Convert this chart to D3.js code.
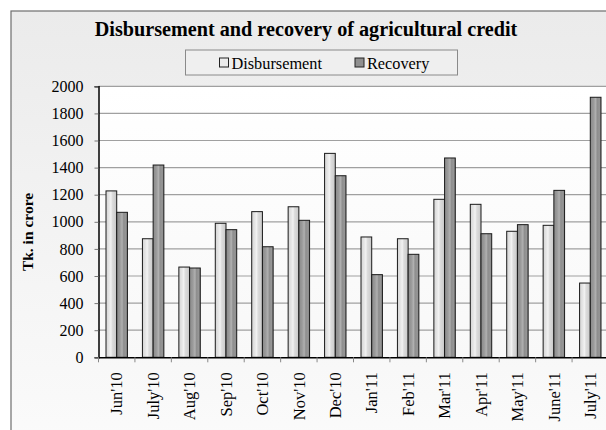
<!DOCTYPE html>
<html>
<head>
<meta charset="utf-8">
<style>
  body { margin: 0; background: #fff; }
  svg { display: block; font-family: "Liberation Serif", "Times New Roman", serif; }
</style>
</head>
<body>
<div id="chart"></div>
<script src="https://d3js.org/d3.v7.min.js"></script>
<script>
// Data (Tk. in crore)
const months = ["Jun'10", "July'10", "Aug'10", "Sep'10", "Oct'10", "Nov'10", "Dec'10",
                "Jan'11", "Feb'11", "Mar'11", "Apr'11", "May'11", "June'11", "July'11"];
const disbursement = [1228, 875, 666, 989, 1075, 1111, 1505, 888, 875, 1166, 1129, 930, 974, 548];
const recovery     = [1070, 1419, 659, 942, 816, 1011, 1340, 610, 760, 1471, 912, 979, 1232, 1919];
const seriesNames = ["Disbursement", "Recovery"];
const yTicks = [0, 200, 400, 600, 800, 1000, 1200, 1400, 1600, 1800, 2000];

const width = 606, height = 430;
const plot = { left: 98.5, right: 608.5, top: 86.3, bottom: 357.3 };

const svg = d3.select("#chart").append("svg")
    .attr("width", width)
    .attr("height", height);

const defs = svg.append("defs");

// chart background gradient
const bg = defs.append("linearGradient").attr("id", "bg")
    .attr("x1", 0).attr("y1", 0).attr("x2", 0).attr("y2", 1);
bg.append("stop").attr("offset", "0%").attr("stop-color", "#ebebeb");
bg.append("stop").attr("offset", "100%").attr("stop-color", "#fbfbfb");

const plotBg = defs.append("linearGradient").attr("id", "plotbg")
    .attr("x1", 0).attr("y1", 0).attr("x2", 0).attr("y2", 1);
plotBg.append("stop").attr("offset", "0%").attr("stop-color", "#ffffff");
plotBg.append("stop").attr("offset", "100%").attr("stop-color", "#f8f8f8");

// striped shading for the bars
function barGradient(id, stops) {
  const g = defs.append("linearGradient").attr("id", id)
      .attr("x1", 0).attr("y1", 0).attr("x2", 1).attr("y2", 0);
  stops.forEach(s => g.append("stop").attr("offset", s[0]).attr("stop-color", s[1]));
}
barGradient("gDisb", [["0%", "#d4d4d4"], ["30%", "#e6e6e6"], ["45%", "#f2f2f2"], ["60%", "#dcdcdc"], ["85%", "#d0d0d0"], ["100%", "#c4c4c4"]]);
barGradient("gRec", [["0%", "#8a8a8a"], ["30%", "#9a9a9a"], ["50%", "#b0b0b0"], ["65%", "#8e8e8e"], ["85%", "#969696"], ["100%", "#7e7e7e"]]);
const fills = { Disbursement: "url(#gDisb)", Recovery: "url(#gRec)" };

// outer frame
svg.append("rect")
    .attr("x", 11).attr("y", 11)
    .attr("width", 620).attr("height", 440)
    .attr("fill", "url(#bg)")
    .attr("stroke", "#6e6e6e")
    .attr("stroke-width", 1.2);

// plot area
svg.append("rect")
    .attr("x", plot.left).attr("y", plot.top)
    .attr("width", plot.right - plot.left).attr("height", plot.bottom - plot.top)
    .attr("fill", "url(#plotbg)");

// scales
const x = d3.scaleBand().domain(months).range([plot.left, plot.right]);
const xSub = d3.scaleBand().domain(seriesNames).range([7.5, x.bandwidth() - 7.5]);
const y = d3.scaleLinear().domain([0, 2000]).range([plot.bottom, plot.top]);

// gridlines
svg.append("g")
  .selectAll("line")
  .data(yTicks.filter(d => d > 0))
  .enter().append("line")
    .attr("x1", plot.left).attr("x2", plot.right)
    .attr("y1", d => y(d)).attr("y2", d => y(d))
    .attr("stroke", "#a0a0a0")
    .attr("stroke-width", 1.2);

// bars
const rows = months.map((m, i) => ({ month: m, Disbursement: disbursement[i], Recovery: recovery[i] }));

const groups = svg.append("g")
  .selectAll("g")
  .data(rows)
  .enter().append("g")
    .attr("transform", d => `translate(${x(d.month)},0)`);

groups.selectAll("rect")
  .data(d => seriesNames.map(k => ({ key: k, value: d[k] })))
  .enter().append("rect")
    .attr("x", d => xSub(d.key))
    .attr("y", d => y(d.value))
    .attr("width", xSub.bandwidth())
    .attr("height", d => y(0) - y(d.value))
    .attr("fill", d => fills[d.key])
    .attr("stroke", "#1a1a1a")
    .attr("stroke-width", 1);

// y axis
const yAxis = svg.append("g")
    .attr("transform", `translate(${plot.left},0)`)
    .call(d3.axisLeft(y).tickValues(yTicks).tickSize(4).tickPadding(11).tickFormat(d3.format("d")));
yAxis.select(".domain").attr("stroke", "#000").attr("stroke-width", 1.5);
yAxis.selectAll(".tick line").attr("stroke", "#777");
yAxis.selectAll("text")
    .attr("font-family", "Liberation Serif")
    .attr("font-size", "16px")
    .attr("fill", "#000");

// x axis
const xAxis = svg.append("g")
    .attr("transform", `translate(0,${plot.bottom})`)
    .call(d3.axisBottom(x).tickSize(0).tickSizeOuter(0));
xAxis.select(".domain").attr("stroke", "#000").attr("stroke-width", 1.5);
xAxis.selectAll("text")
    .attr("font-family", "Liberation Serif")
    .attr("font-size", "16.5px")
    .attr("fill", "#000")
    .attr("text-anchor", "end")
    .attr("transform", "rotate(-90)")
    .attr("x", -15)
    .attr("y", 0)
    .attr("dy", "0.35em");

// category boundary ticks
svg.append("g")
  .selectAll("line")
  .data(months)
  .enter().append("line")
    .attr("x1", d => x(d)).attr("x2", d => x(d))
    .attr("y1", plot.bottom).attr("y2", plot.bottom + 5)
    .attr("stroke", "#888");

// title
svg.append("text")
    .attr("x", 306).attr("y", 36)
    .attr("text-anchor", "middle")
    .attr("font-size", "20.2px")
    .attr("font-weight", "bold")
    .text("Disbursement and recovery of agricultural credit");

// y label
svg.append("text")
    .attr("transform", "translate(33,232) rotate(-90)")
    .attr("text-anchor", "middle")
    .attr("font-size", "15.5px")
    .attr("font-weight", "bold")
    .text("Tk. in crore");

// legend
const legend = svg.append("g");
legend.append("rect")
    .attr("x", 185.5).attr("y", 50)
    .attr("width", 272).attr("height", 25)
    .attr("fill", "#efefef")
    .attr("stroke", "#8a8a8a");

const legendPos = [219.5, 355];
const legendSwatch = { Disbursement: "#ececec", Recovery: "#8f8f8f" };
seriesNames.forEach((name, i) => {
  legend.append("rect")
      .attr("x", legendPos[i]).attr("y", 58)
      .attr("width", 9).attr("height", 9)
      .attr("fill", legendSwatch[name])
      .attr("stroke", "#222");
  legend.append("text")
      .attr("x", legendPos[i] + 12).attr("y", 69)
      .attr("font-size", "16.3px")
      .text(name);
});
</script>
</body>
</html>
